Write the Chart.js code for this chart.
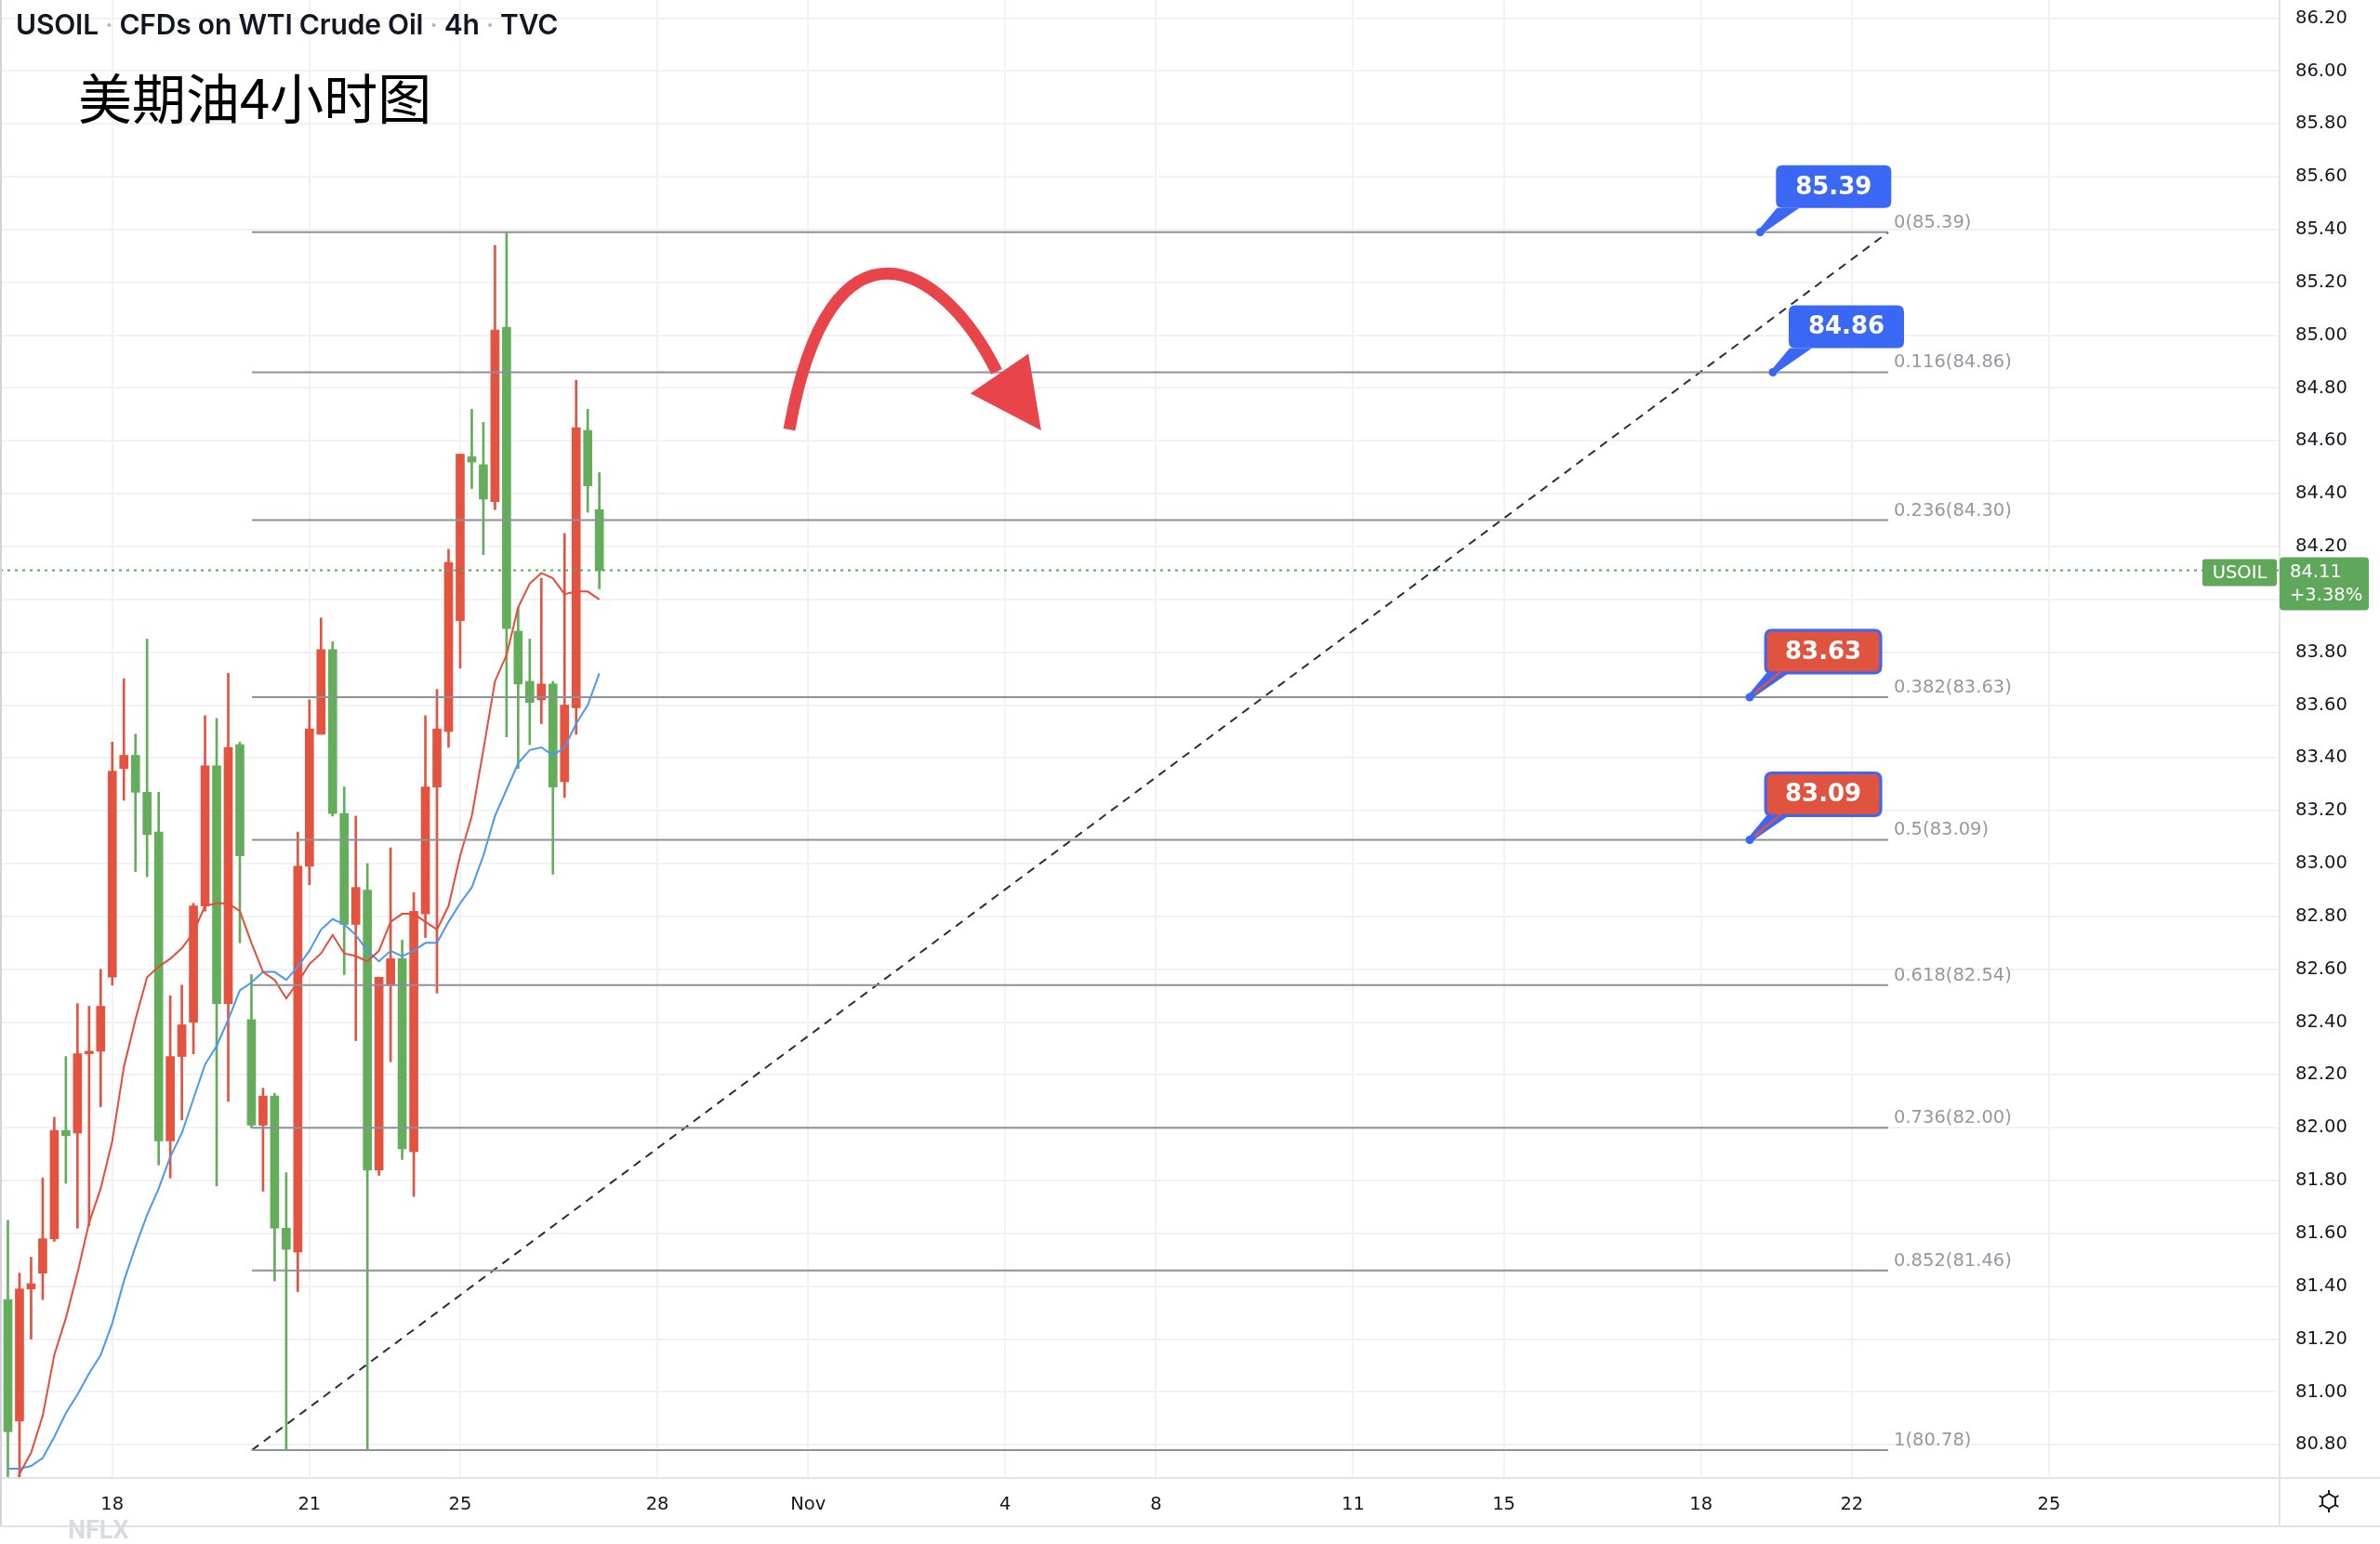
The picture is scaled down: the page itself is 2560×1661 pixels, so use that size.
<!DOCTYPE html>
<html>
<head>
<meta charset="utf-8">
<title>USOIL 4h</title>
<script src="https://cdn.jsdelivr.net/npm/chart.js@4.4.1/dist/chart.umd.min.js"></script>
<style>
  html, body { margin: 0; padding: 0; background: #ffffff; }
  body { width: 2560px; height: 1661px; overflow: hidden; position: relative; }
  #c { position: absolute; left: 0; top: 0; }
  #title { position: absolute; left: 17px; top: 8px; font-family: Inter, Roboto, sans-serif; font-weight: 600;
           font-size: 30px; color: #131722; white-space: nowrap; letter-spacing: -0.2px; }
  #title .sep { color: #b2b5be; margin: 0 7px; font-weight: 400; }
  #cn { position: absolute; left: 84px; top: 69px; font-family: "Noto Sans CJK SC", sans-serif; font-size: 58px;
        line-height: 1.2; color: #000000; white-space: nowrap; }
  #nflx { position: absolute; left: 73px; top: 1633px; font-family: Roboto, sans-serif; font-weight: 700;
          font-size: 27px; line-height: 1; color: #d8dbe0; }
</style>
</head>
<body>
<canvas id="c" width="2560" height="1661"></canvas>
<div id="title">USOIL<span class="sep">·</span>CFDs on WTI Crude Oil<span class="sep">·</span>4h<span class="sep">·</span>TVC</div>
<div id="cn">美期油4小时图</div>
<div id="nflx">NFLX</div>
<script>
// ---- 4h candles (bar 0 = first visible bar) ----
const candleOpen  = [81.35,80.89,81.39,81.45,81.58,81.99,81.98,82.28,82.29,82.57,83.36,83.41,83.27,83.12,81.95,82.27,82.40,82.84,83.37,82.47,83.45,82.41,82.01,82.12,81.62,81.53,82.99,83.49,83.81,83.19,82.77,82.90,81.84,82.54,82.64,81.91,82.81,83.29,83.50,83.92,84.54,84.51,84.37,85.03,83.88,83.69,83.62,83.68,83.31,83.59,84.64,84.34];
const candleHigh  = [81.65,81.45,81.51,81.81,82.04,82.27,82.47,82.46,82.60,83.46,83.70,83.49,83.85,83.27,82.50,82.54,82.85,83.56,83.55,83.72,83.46,82.58,82.15,82.13,81.83,83.12,83.62,83.93,83.84,83.29,83.18,83.00,82.57,83.06,82.71,82.89,83.56,83.66,84.19,84.55,84.72,84.67,85.34,85.39,83.97,83.85,84.08,83.69,84.25,84.83,84.72,84.48];
const candleLow   = [80.62,80.62,81.20,81.35,81.57,81.79,81.62,81.63,82.08,82.54,83.24,82.97,82.95,81.86,81.81,82.03,82.28,82.82,81.78,82.10,82.70,82.00,81.76,81.42,80.78,81.38,82.92,83.49,83.18,82.58,82.33,80.78,81.82,82.25,81.88,81.74,82.72,82.51,83.44,83.74,84.42,84.17,84.34,83.48,83.36,83.45,83.53,82.96,83.25,83.49,84.33,84.04];
const candleClose = [80.85,81.39,81.41,81.58,81.99,81.97,82.28,82.29,82.46,83.35,83.41,83.27,83.11,81.95,82.27,82.39,82.84,83.37,82.47,83.44,83.03,82.01,82.12,81.62,81.54,82.99,83.51,83.81,83.19,82.77,82.91,81.84,82.57,82.64,81.92,82.82,83.29,83.51,84.14,84.55,84.52,84.38,85.02,83.89,83.68,83.61,83.68,83.29,83.60,84.65,84.43,84.11];

// ---- moving averages ----
const maFast = [80.55,80.69,80.77,80.91,81.14,81.28,81.45,81.64,81.77,81.95,82.23,82.41,82.57,82.61,82.64,82.68,82.74,82.84,82.85,82.85,82.82,82.70,82.59,82.56,82.49,82.55,82.62,82.66,82.73,82.66,82.65,82.63,82.67,82.78,82.81,82.81,82.78,82.75,82.84,83.03,83.18,83.43,83.69,83.79,83.97,84.06,84.10,84.08,84.02,84.03,84.03,84.00];
const maSlow = [80.71,80.71,80.72,80.75,80.83,80.92,80.99,81.07,81.14,81.26,81.42,81.55,81.67,81.77,81.89,81.98,82.11,82.24,82.31,82.41,82.52,82.55,82.59,82.59,82.56,82.61,82.67,82.75,82.79,82.77,82.73,82.67,82.63,82.67,82.65,82.67,82.70,82.70,82.78,82.85,82.91,83.03,83.18,83.28,83.38,83.43,83.44,83.41,83.44,83.53,83.60,83.72];

// ---- time axis: bar position of each day label ----
const dayTickBars   = [9, 26, 39, 56, 69, 86, 99, 116, 129, 146, 159, 176];
const dayTickLabels = ['18', '21', '25', '28', 'Nov', '4', '8', '11', '15', '18', '22', '25'];

// ---- price axis ticks ----
const priceTicks = [80.8,81.0,81.2,81.4,81.6,81.8,82.0,82.2,82.4,82.6,82.8,83.0,83.2,83.4,83.6,83.8,84.0,84.2,84.4,84.6,84.8,85.0,85.2,85.4,85.6,85.8,86.0,86.2];

// ---- Fibonacci retracement ----
const fibRatios = ['0', '0.116', '0.236', '0.382', '0.5', '0.618', '0.736', '0.852', '1'];
const fibPrices = [85.39, 84.86, 84.30, 83.63, 83.09, 82.54, 82.00, 81.46, 80.78];
const fibBars = [21.04, 162.14];           // left and right anchor of the retracement

// ---- price callouts ----
const calloutPrices = [85.39, 84.86, 83.63, 83.09];
const calloutBars   = [151.1, 152.2, 150.2, 150.2];
const calloutFills  = ['blue', 'blue', 'red', 'red'];

// ---- last price ----
const lastPrice = 84.11;
const lastChange = '+3.38%';
const symbolName = 'USOIL';

// ---- hand-drawn arrow (bar, price) ----
const arrowCurve = [[67.38, 84.643], [70.91, 85.512], [80.61, 85.277], [85.26, 84.862]];
const arrowHead  = [[83.0, 84.78], [88.0, 84.93], [89.1, 84.64]];

// visible window
const viewBars = [-0.6814, 195.81];
const viewPrices = [80.678, 86.269];

const UP = '#e35340', DOWN = '#63ad5b';
const BLUE = '#3a67f4', CALL_RED = '#e0533f';
const AXIS_FONT = { family: 'DejaVu Sans', size: 19.5 };

const bars = candleOpen.map((o, i) => i);
const candleColors = bars.map(i => candleClose[i] >= candleOpen[i] ? UP : DOWN);

const datasets = [];

// Fibonacci levels
fibPrices.forEach((p, k) => {
  datasets.push({
    type: 'line', label: 'fib ' + fibRatios[k],
    data: [{ x: fibBars[0], y: p }, { x: fibBars[1], y: p }],
    borderColor: '#8d919a', borderWidth: 2, pointRadius: 0, tension: 0
  });
});
// dashed trend line of the retracement
datasets.push({
  type: 'line', label: 'trend',
  data: [{ x: fibBars[0], y: fibPrices[fibPrices.length - 1] }, { x: fibBars[1], y: fibPrices[0] }],
  borderColor: '#2a2e39', borderWidth: 2, borderDash: [9, 7], pointRadius: 0, tension: 0
});
// moving averages
datasets.push({
  type: 'line', label: 'MA fast',
  data: maFast.map((v, i) => ({ x: i, y: v })),
  borderColor: '#ea4a3c', borderWidth: 2, pointRadius: 0, tension: 0
});
datasets.push({
  type: 'line', label: 'MA slow',
  data: maSlow.map((v, i) => ({ x: i, y: v })),
  borderColor: '#4a98f2', borderWidth: 2, pointRadius: 0, tension: 0
});
// last price line
datasets.push({
  type: 'line', label: 'last',
  data: [{ x: viewBars[0], y: lastPrice }, { x: viewBars[1], y: lastPrice }],
  borderColor: '#4caf50', borderWidth: 2, borderDash: [3, 5], pointRadius: 0, tension: 0
});
// candle bodies
datasets.push({
  type: 'bar', label: 'body',
  data: bars.map(i => ({ x: i, y: [candleOpen[i], candleClose[i]] })),
  backgroundColor: candleColors, barThickness: 9, minBarLength: 2, grouped: false, borderWidth: 0
});
// candle wicks
datasets.push({
  type: 'bar', label: 'wick',
  data: bars.map(i => ({ x: i, y: [candleLow[i], candleHigh[i]] })),
  backgroundColor: candleColors, barThickness: 2, grouped: false, borderWidth: 0
});

function roundRectPath(ctx, x, y, w, h, r) {
  ctx.beginPath();
  ctx.moveTo(x + r, y);
  ctx.lineTo(x + w - r, y);
  ctx.quadraticCurveTo(x + w, y, x + w, y + r);
  ctx.lineTo(x + w, y + h - r);
  ctx.quadraticCurveTo(x + w, y + h, x + w - r, y + h);
  ctx.lineTo(x + r, y + h);
  ctx.quadraticCurveTo(x, y + h, x, y + h - r);
  ctx.lineTo(x, y + r);
  ctx.quadraticCurveTo(x, y, x + r, y);
  ctx.closePath();
}

const drawings = {
  id: 'drawings',
  afterDatasetsDraw(chart) {
    const ctx = chart.ctx, xs = chart.scales.x, ys = chart.scales.y;
    const X = v => xs.getPixelForValue(v), Y = v => ys.getPixelForValue(v);
    ctx.save();

    // retracement labels
    ctx.font = '19.5px "DejaVu Sans"';
    ctx.fillStyle = '#9598a1';
    ctx.textAlign = 'left';
    ctx.textBaseline = 'alphabetic';
    fibPrices.forEach((p, k) => {
      ctx.fillText(fibRatios[k] + '(' + p.toFixed(2) + ')', X(fibBars[1]) + 6, Y(p) - 5);
    });

    // red arrow
    const c = arrowCurve.map(([b, p]) => [X(b), Y(p)]);
    ctx.strokeStyle = '#e8454a';
    ctx.lineWidth = 13;
    ctx.lineCap = 'butt';
    ctx.beginPath();
    ctx.moveTo(c[0][0], c[0][1]);
    ctx.bezierCurveTo(c[1][0], c[1][1], c[2][0], c[2][1], c[3][0], c[3][1]);
    ctx.stroke();
    const h = arrowHead.map(([b, p]) => [X(b), Y(p)]);
    ctx.fillStyle = '#e8454a';
    ctx.beginPath();
    ctx.moveTo(h[0][0], h[0][1]);
    ctx.lineTo(h[1][0], h[1][1]);
    ctx.lineTo(h[2][0], h[2][1]);
    ctx.closePath();
    ctx.fill();

    // price callouts
    calloutPrices.forEach((p, k) => {
      const dx = X(calloutBars[k]), dy = Y(p);
      const L = dx + 17, B = dy - 26, W = 124, H = 46, T = B - H;
      const isRed = calloutFills[k] === 'red';
      ctx.fillStyle = BLUE;
      ctx.beginPath();
      ctx.moveTo(dx - 2, dy - 2);
      ctx.lineTo(L + 1, B);
      ctx.lineTo(L + 25, B);
      ctx.lineTo(dx + 3, dy + 1);
      ctx.closePath();
      ctx.fill();
      roundRectPath(ctx, L, T, W, H, 7);
      ctx.fillStyle = isRed ? CALL_RED : BLUE;
      ctx.fill();
      if (isRed) {
        ctx.lineWidth = 3;
        ctx.strokeStyle = BLUE;
        ctx.stroke();
        ctx.strokeStyle = CALL_RED;
        ctx.lineWidth = 2.5;
        ctx.beginPath();
        ctx.moveTo(dx + 5, dy - 4);
        ctx.lineTo(L + 16, B - 1);
        ctx.stroke();
      }
      ctx.fillStyle = BLUE;
      ctx.beginPath();
      ctx.arc(dx, dy, 4.5, 0, Math.PI * 2);
      ctx.fill();
      ctx.fillStyle = '#ffffff';
      ctx.font = 'bold 26px "DejaVu Sans"';
      ctx.textAlign = 'center';
      ctx.textBaseline = 'middle';
      ctx.fillText(p.toFixed(2), L + W / 2, T + H / 2 + 1);
    });
    ctx.restore();
  },
  afterDraw(chart) {
    const ctx = chart.ctx, ys = chart.scales.y, area = chart.chartArea;
    const yl = ys.getPixelForValue(lastPrice);
    ctx.save();
    ctx.strokeStyle = '#e0e3eb';
    ctx.lineWidth = 2;
    ctx.beginPath();
    ctx.moveTo(area.right + 1, 0); ctx.lineTo(area.right + 1, area.bottom + 52);
    ctx.moveTo(0, area.bottom + 1); ctx.lineTo(2560, area.bottom + 1);
    ctx.moveTo(0, area.bottom + 53); ctx.lineTo(2560, area.bottom + 53);
    ctx.stroke();
    ctx.strokeStyle = '#d1d4dc';
    ctx.beginPath();
    ctx.moveTo(1, 0); ctx.lineTo(1, area.bottom + 52);
    ctx.stroke();

    const G = '#5fa85b';
    ctx.fillStyle = G;
    roundRectPath(ctx, area.right - 82, yl - 12, 80, 29, 3);
    ctx.fill();
    roundRectPath(ctx, area.right + 1, yl - 14, 96, 57, 4);
    ctx.fill();
    ctx.fillStyle = '#ffffff';
    ctx.font = '19.5px "DejaVu Sans"';
    ctx.textAlign = 'center';
    ctx.textBaseline = 'middle';
    ctx.fillText(symbolName, area.right - 42, yl + 3);
    ctx.textAlign = 'left';
    ctx.fillText(lastPrice.toFixed(2), area.right + 12, yl + 2);
    ctx.fillText(lastChange, area.right + 12, yl + 27);

    const gx = 2505, gy = area.bottom + 26;
    ctx.strokeStyle = '#131722';
    ctx.lineWidth = 2;
    ctx.beginPath();
    for (let k = 0; k < 6; k++) {
      const a = Math.PI / 6 + k * Math.PI / 3;
      const ax = gx + Math.cos(a) * 8, ay = gy + Math.sin(a) * 8;
      if (k === 0) ctx.moveTo(ax, ay); else ctx.lineTo(ax, ay);
    }
    ctx.closePath();
    ctx.stroke();
    ctx.beginPath();
    for (let k = 0; k < 6; k++) {
      const a = Math.PI / 6 + k * Math.PI / 3;
      ctx.moveTo(gx + Math.cos(a) * 8, gy + Math.sin(a) * 8);
      ctx.lineTo(gx + Math.cos(a) * 12, gy + Math.sin(a) * 12);
    }
    ctx.stroke();
    ctx.restore();
  }
};

new Chart(document.getElementById('c'), {
  type: 'bar',
  data: { datasets },
  options: {
    responsive: false,
    animation: false,
    devicePixelRatio: 1,
    layout: { padding: { left: 0, right: 0, top: 0, bottom: 20 } },
    plugins: { legend: { display: false }, tooltip: { enabled: false } },
    scales: {
      x: {
        type: 'linear', position: 'bottom', offset: false,
        min: viewBars[0], max: viewBars[1],
        grid: { color: '#f0f2f6', lineWidth: 2, drawTicks: false, offset: false },
        border: { display: false },
        ticks: {
          padding: 18, color: '#131722', font: AXIS_FONT, maxRotation: 0, autoSkip: false,
          callback: v => { const k = dayTickBars.indexOf(v); return k >= 0 ? dayTickLabels[k] : ''; }
        },
        afterBuildTicks: s => { s.ticks = dayTickBars.map(v => ({ value: v })); },
        afterFit: s => { s.height = 52; s.paddingLeft = 0; s.paddingRight = 0; }
      },
      y: {
        type: 'linear', position: 'right',
        min: viewPrices[0], max: viewPrices[1],
        grid: { color: '#f0f2f6', lineWidth: 2, drawTicks: false },
        border: { display: false },
        ticks: { padding: 18, color: '#131722', font: AXIS_FONT, callback: v => v.toFixed(2) },
        afterBuildTicks: s => { s.ticks = priceTicks.map(v => ({ value: v })); },
        afterFit: s => { s.width = 109; s.paddingTop = 0; s.paddingBottom = 0; }
      }
    }
  },
  plugins: [drawings]
});
</script>
</body>
</html>
